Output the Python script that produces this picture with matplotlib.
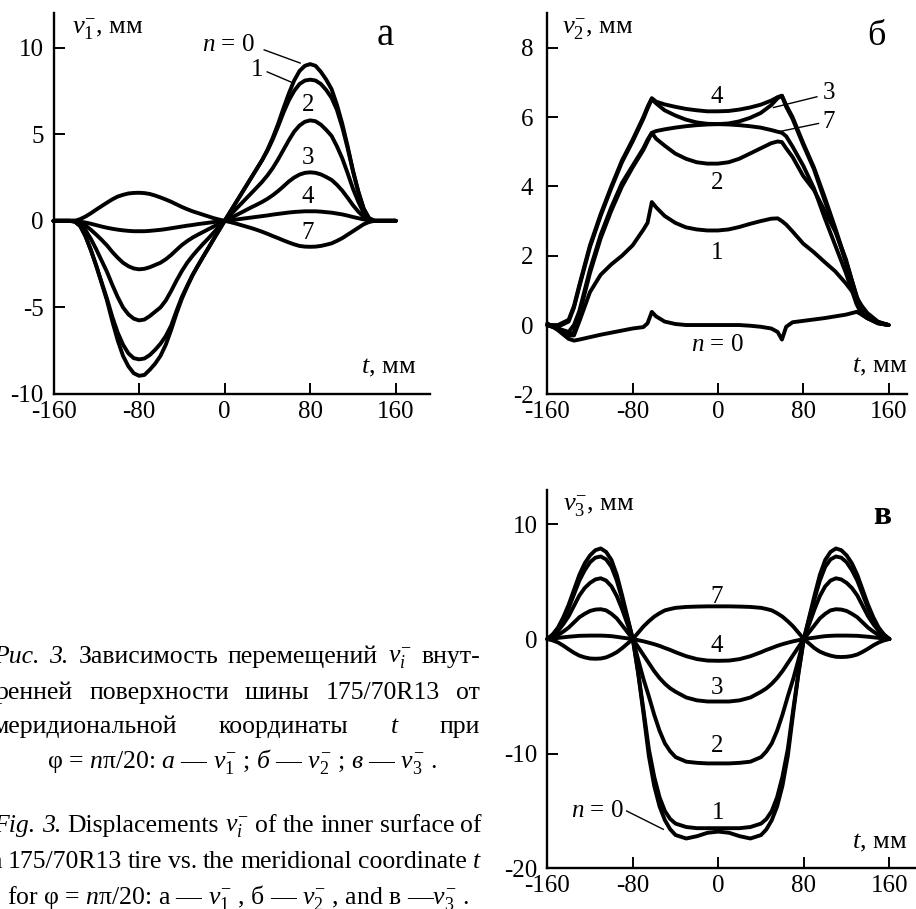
import matplotlib
matplotlib.use("Agg")
import matplotlib.pyplot as plt

plt.rcParams["font.family"] = ["Liberation Serif", "DejaVu Serif"]
plt.rcParams["mathtext.fontset"] = "custom"
plt.rcParams["mathtext.rm"] = "Liberation Serif"
plt.rcParams["mathtext.it"] = "Liberation Serif:italic"
plt.rcParams["mathtext.bf"] = "Liberation Serif:bold"
plt.rcParams["axes.unicode_minus"] = False

# ---------------- data ----------------
# panel a: v1^- vs t (step 5 mm)
t_a = [-160, -155, -150, -145, -140, -135, -130, -125, -120, -115, -110, -105, -100, -95, -90, -85,
       -80, -75, -70, -65, -60, -55, -50, -45, -40, -35, -30, -25, -20, -15, -10, -5, 0,
       5, 10, 15, 20, 25, 30, 35, 40, 45, 50, 55, 60, 65, 70, 75, 80,
       85, 90, 95, 100, 105, 110, 115, 120, 125, 130, 135, 140, 145, 150, 155, 160]
v1_n0 = [0, 0, 0, 0, -0.05, -0.3, -0.9, -1.7, -2.6, -3.6, -4.6, -5.8, -6.9, -7.8, -8.4, -8.8,
         -8.95, -8.9, -8.6, -8.25, -7.8, -7.15, -6.3, -5.35, -4.5, -3.8, -3.15, -2.6, -2.07, -1.55, -1.03, -0.52, 0,
         0.5, 1.0, 1.5, 2.0, 2.5, 3.0, 3.5, 4.1, 4.8, 5.6, 6.5, 7.35, 8.1, 8.65, 8.95, 9.05,
         8.95, 8.6, 8.15, 7.6, 6.7, 5.6, 4.3, 2.9, 1.7, 0.7, 0.15, 0, 0, 0, 0, 0]
v1_n1 = [0, 0, 0, 0, -0.05, -0.3, -0.9, -1.7, -2.6, -3.55, -4.5, -5.55, -6.45, -7.15, -7.65, -7.93,
         -8.0, -7.95, -7.75, -7.45, -7.1, -6.65, -6.05, -5.2, -4.4, -3.75, -3.12, -2.58, -2.06, -1.55, -1.03, -0.52, 0,
         0.5, 1.0, 1.5, 2.0, 2.5, 3.0, 3.5, 4.05, 4.7, 5.45, 6.25, 6.95, 7.5, 7.9, 8.1, 8.15,
         8.1, 7.9, 7.55, 7.1, 6.4, 5.4, 4.2, 2.85, 1.65, 0.7, 0.15, 0, 0, 0, 0, 0]
v1_n2 = [0, 0, 0, 0, 0, -0.2, -0.55, -1.05, -1.65, -2.3, -2.95, -3.7, -4.4, -5.0, -5.4, -5.65,
         -5.75, -5.7, -5.5, -5.25, -5.0, -4.6, -4.05, -3.45, -2.9, -2.42, -2.02, -1.66, -1.32, -1.0, -0.66, -0.33, 0,
         0.32, 0.64, 0.96, 1.28, 1.6, 1.92, 2.25, 2.62, 3.05, 3.55, 4.1, 4.65, 5.15, 5.5, 5.72, 5.8,
         5.75, 5.55, 5.25, 4.9, 4.3, 3.6, 2.75, 1.85, 1.1, 0.45, 0.1, 0, 0, 0, 0, 0]
v1_n3 = [0, 0, 0, 0, 0, -0.1, -0.28, -0.52, -0.8, -1.1, -1.42, -1.8, -2.13, -2.42, -2.62, -2.75,
         -2.8, -2.77, -2.68, -2.55, -2.42, -2.22, -1.97, -1.68, -1.4, -1.17, -0.97, -0.8, -0.64, -0.48, -0.32, -0.16, 0,
         0.15, 0.3, 0.46, 0.62, 0.78, 0.93, 1.09, 1.27, 1.48, 1.72, 1.99, 2.27, 2.5, 2.67, 2.77, 2.8,
         2.77, 2.68, 2.53, 2.36, 2.08, 1.74, 1.33, 0.9, 0.53, 0.22, 0.05, 0, 0, 0, 0, 0]
v1_n4 = [0, 0, 0, 0, 0, -0.05, -0.1, -0.17, -0.25, -0.33, -0.4, -0.46, -0.51, -0.55, -0.58, -0.6,
         -0.6, -0.6, -0.58, -0.55, -0.52, -0.48, -0.43, -0.38, -0.33, -0.28, -0.24, -0.19, -0.15, -0.11, -0.07, -0.035, 0,
         0.035, 0.07, 0.11, 0.15, 0.19, 0.23, 0.27, 0.31, 0.36, 0.4, 0.44, 0.48, 0.51, 0.53, 0.55, 0.55,
         0.55, 0.53, 0.5, 0.47, 0.42, 0.37, 0.3, 0.22, 0.15, 0.08, 0.03, 0, 0, 0, 0, 0]
v1_n7 = [0, 0, 0, 0, 0, 0.1, 0.25, 0.44, 0.65, 0.85, 1.05, 1.24, 1.4, 1.5, 1.58, 1.61,
         1.62, 1.6, 1.55, 1.46, 1.35, 1.23, 1.1, 0.95, 0.8, 0.67, 0.55, 0.45, 0.35, 0.25, 0.15, 0.07, 0,
         -0.07, -0.15, -0.24, -0.33, -0.42, -0.52, -0.63, -0.75, -0.88, -1.0, -1.13, -1.25, -1.36, -1.45, -1.49, -1.5,
         -1.49, -1.45, -1.38, -1.3, -1.16, -1.0, -0.8, -0.6, -0.4, -0.2, -0.07, 0, 0, 0, 0, 0]

# panel b: v2^- vs t
t_b = [-160, -150, -140, -135, -130, -120, -110, -100, -90, -80, -70, -66, -62, -58, -50,
       -40, -30, -20, -10, 0, 10, 20, 30, 40, 50, 56, 60, 64, 70, 80,
       90, 100, 110, 120, 130, 135, 140, 150, 160]
v2_n0 = [0.05, -0.15, -0.4, -0.45, -0.42, -0.35, -0.28, -0.22, -0.16, -0.1, -0.06, 0.05, 0.38, 0.25, 0.1,
         0.03, 0.0, 0.0, 0.0, 0.0, 0.0, 0.0, -0.02, -0.05, -0.1, -0.2, -0.42, -0.05, 0.08, 0.12,
         0.16, 0.2, 0.25, 0.3, 0.38, 0.3, 0.2, 0.08, 0.0]
v2_n1 = [0.0, -0.1, -0.3, -0.3, 0.1, 0.95, 1.45, 1.75, 2.0, 2.3, 2.75, 2.95, 3.55, 3.4, 3.15,
         2.95, 2.82, 2.76, 2.73, 2.73, 2.76, 2.83, 2.92, 3.0, 3.07, 3.08, 3.0, 2.9, 2.7, 2.35,
         2.1, 1.82, 1.55, 1.2, 0.8, 0.55, 0.35, 0.1, 0.0]
v2_n2 = [0, -0.1, -0.3, -0.2, 0.3, 1.5, 2.5, 3.3, 4.0, 4.55, 5.05, 5.3, 5.55, 5.38, 5.18,
         4.95, 4.8, 4.7, 4.66, 4.66, 4.7, 4.8, 4.95, 5.1, 5.25, 5.3, 5.28, 5.1, 4.85, 4.3,
         3.9, 3.3, 2.7, 1.9, 0.8, 0.4, 0.25, 0.08, 0]
v2_n3 = [0, -0.05, 0.1, 0.5, 1.1, 2.25, 3.15, 3.95, 4.7, 5.3, 5.95, 6.25, 6.52, 6.4, 6.2,
         6.05, 5.93, 5.85, 5.81, 5.8, 5.82, 5.88, 5.98, 6.12, 6.35, 6.55, 6.62, 6.3, 5.95, 5.2,
         4.5, 3.6, 2.75, 1.8, 0.8, 0.35, 0.2, 0.05, 0]
v2_n4 = [0, 0.0, 0.15, 0.55, 1.15, 2.3, 3.2, 4.0, 4.75, 5.35, 6.0, 6.3, 6.55, 6.45, 6.37,
         6.3, 6.24, 6.2, 6.17, 6.17, 6.18, 6.22, 6.28, 6.36, 6.48, 6.58, 6.62, 6.35, 6.0, 5.25,
         4.55, 3.7, 2.8, 1.85, 0.85, 0.4, 0.22, 0.06, 0]
v2_n7 = [0, -0.1, -0.2, 0.0, 0.4, 1.6, 2.6, 3.4, 4.1, 4.6, 5.1, 5.35, 5.55, 5.6, 5.65,
         5.7, 5.74, 5.77, 5.79, 5.8, 5.79, 5.77, 5.74, 5.7, 5.63, 5.58, 5.55, 5.45, 5.15, 4.6,
         3.95, 3.1, 2.3, 1.5, 0.6, 0.3, 0.2, 0.05, 0]

# panel c: v3^- vs t
t_c = [-160, -155, -150, -145, -140, -135, -130, -125, -120, -115, -110, -105, -100, -95, -90, -85,
       -80, -75, -70, -65, -60, -55, -50, -45, -40,
       -30, -20, -10, 0, 10, 20, 30,
       40, 45, 50, 55, 60, 65, 70, 75, 80,
       85, 90, 95, 100, 105, 110, 115, 120, 125, 130, 135, 140, 145, 150, 155, 160]
v3_n0 = [0, 0.4, 1.0, 1.9, 3.0, 4.3, 5.6, 6.6, 7.3, 7.75, 7.9, 7.6, 6.9, 5.6, 3.8, 1.9,
         0, -3.0, -6.5, -10.2, -12.8, -14.6, -15.8, -16.6, -17.1,
         -17.4, -17.2, -16.9, -16.8, -16.9, -17.2, -17.4,
         -17.1, -16.6, -15.8, -14.6, -12.8, -10.2, -6.5, -3.0, 0,
         1.9, 3.8, 5.6, 6.9, 7.6, 7.9, 7.75, 7.3, 6.6, 5.6, 4.3, 3.0, 1.9, 1.0, 0.4, 0]
v3_n1 = [0, 0.35, 0.9, 1.7, 2.7, 3.9, 5.1, 6.0, 6.7, 7.1, 7.2, 6.95, 6.3, 5.1, 3.5, 1.75,
         0, -2.9, -6.2, -9.6, -12.0, -13.8, -15.0, -15.7, -16.1,
         -16.4, -16.5, -16.5, -16.5, -16.5, -16.5, -16.4,
         -16.1, -15.7, -15.0, -13.8, -12.0, -9.6, -6.2, -2.9, 0,
         1.75, 3.5, 5.1, 6.3, 6.95, 7.2, 7.1, 6.7, 6.0, 5.1, 3.9, 2.7, 1.7, 0.9, 0.35, 0]
v3_n2 = [0, 0.27, 0.7, 1.3, 2.0, 2.9, 3.8, 4.45, 4.9, 5.2, 5.3, 5.1, 4.6, 3.75, 2.6, 1.3,
         0, -1.8, -3.5, -5.0, -6.6, -8.0, -9.1, -9.8, -10.3,
         -10.7, -10.8, -10.85, -10.85, -10.85, -10.8, -10.7,
         -10.3, -9.8, -9.1, -8.0, -6.6, -5.0, -3.5, -1.8, 0,
         1.3, 2.6, 3.75, 4.6, 5.1, 5.3, 5.2, 4.9, 4.45, 3.8, 2.9, 2.0, 1.3, 0.7, 0.27, 0]
v3_n3 = [0, 0.13, 0.35, 0.65, 1.0, 1.45, 1.9, 2.2, 2.45, 2.57, 2.6, 2.5, 2.2, 1.8, 1.2, 0.6,
         0, -0.7, -1.4, -2.1, -2.8, -3.4, -3.9, -4.3, -4.6,
         -5.1, -5.35, -5.45, -5.45, -5.45, -5.35, -5.1,
         -4.6, -4.3, -3.9, -3.4, -2.8, -2.1, -1.4, -0.7, 0,
         0.6, 1.2, 1.8, 2.2, 2.5, 2.6, 2.57, 2.45, 2.2, 1.9, 1.45, 1.0, 0.65, 0.35, 0.13, 0]
v3_n4 = [0, 0.05, 0.1, 0.15, 0.2, 0.24, 0.28, 0.29, 0.3, 0.3, 0.3, 0.28, 0.25, 0.19, 0.12, 0.06,
         0, -0.1, -0.2, -0.32, -0.45, -0.6, -0.78, -0.95, -1.15,
         -1.5, -1.75, -1.88, -1.9, -1.88, -1.75, -1.5,
         -1.15, -0.95, -0.78, -0.6, -0.45, -0.32, -0.2, -0.1, 0,
         0.06, 0.12, 0.19, 0.25, 0.28, 0.3, 0.3, 0.3, 0.29, 0.28, 0.24, 0.2, 0.15, 0.1, 0.05, 0]
v3_n7 = [0, -0.12, -0.3, -0.58, -0.9, -1.2, -1.45, -1.6, -1.7, -1.72, -1.7, -1.6, -1.4, -1.15, -0.8, -0.4,
         0, 0.55, 1.1, 1.55, 1.95, 2.25, 2.5, 2.62, 2.72,
         2.8, 2.83, 2.85, 2.85, 2.85, 2.83, 2.8,
         2.72, 2.62, 2.5, 2.25, 1.95, 1.55, 1.1, 0.55, 0,
         -0.4, -0.8, -1.1, -1.3, -1.45, -1.55, -1.57, -1.55, -1.48, -1.35, -1.12, -0.85, -0.55, -0.3, -0.12, 0]

x_ticks = [-160, -80, 0, 80, 160]
x_ticklabels = ["-160", "-80", "0", "80", "160"]
yticks_a = [-10, -5, 0, 5, 10]
yticks_b = [-2, 0, 2, 4, 6, 8]
yticks_c = [-20, -10, 0, 10]

caption_ru = [
    [("Рис.", "italic"), ("3.", "italic"), ("Зависимость", "normal"), ("перемещений", "normal"),
     ("$v_i^{-}$", "normal"), ("внут-", "normal")],
    [("ренней", "normal"), ("поверхности", "normal"), ("шины", "normal"), ("175/70R13", "normal"), ("от", "normal")],
    [("меридиональной", "normal"), ("координаты", "normal"), ("t", "italic"), ("при", "normal")],
]
caption_ru_last = r"φ = $n$π/20: $\mathit{а}$ — $v_1^{-}$ ; $\mathit{б}$ — $v_2^{-}$ ; $\mathit{в}$ — $v_3^{-}$ ."
caption_en = [
    [("Fig.", "italic"), ("3.", "italic"), ("Displacements", "normal"), ("$v_i^{-}$", "normal"), ("of", "normal"),
     ("the", "normal"), ("inner", "normal"), ("surface", "normal"), ("of", "normal")],
    [("a", "normal"), ("175/70R13", "normal"), ("tire", "normal"), ("vs.", "normal"), ("the", "normal"),
     ("meridional", "normal"), ("coordinate", "normal"), ("t", "italic")],
]
caption_en_last = r"for φ = $n$π/20: a — $v_1^{-}$ , б — $v_2^{-}$ , and в —$v_3^{-}$ ."

# ---------------- figure ----------------
W, H = 916, 909
fig = plt.figure(figsize=(W / 100, H / 100), dpi=100)
fig.patch.set_facecolor("white")

def px_axes(l, t, r, b):
    return fig.add_axes([l / W, 1 - b / H, (r - l) / W, (b - t) / H])

LW = 2.8
TICK_FS = 18
LAB_FS = 18
AX_FS = 19

def style(ax, xlim, ylim, yticks, ypad):
    ax.set_xlim(*xlim)
    ax.set_ylim(*ylim)
    for s in ("top", "right"):
        ax.spines[s].set_visible(False)
    for s in ("left", "bottom"):
        ax.spines[s].set_linewidth(1.7)
    ax.set_xticks(x_ticks)
    ax.set_xticklabels(x_ticklabels)
    ax.set_yticks(yticks)
    ax.set_yticklabels([str(v) for v in yticks])
    ax.tick_params(axis="both", direction="in", length=8, width=1.4, labelsize=TICK_FS)
    ax.tick_params(axis="x", pad=5)
    ax.tick_params(axis="y", pad=ypad)
    ax.patch.set_alpha(0)

def curves(ax, t, series):
    for v in series:
        ax.plot(t, v, color="black", lw=LW, solid_capstyle="round", solid_joinstyle="round", clip_on=False)

# panel a
ax_a = px_axes(53.5, 13, 430, 394)
style(ax_a, (-160, 192), (-10, 12), yticks_a, 7)
curves(ax_a, t_a, [v1_n0, v1_n1, v1_n2, v1_n3, v1_n4, v1_n7])
ax_a.text(3, 10.15, "$n$ = 0", fontsize=LAB_FS, ha="center", va="center")
ax_a.plot([37, 70.6], [9.87, 9.11], color="black", lw=1.0)
ax_a.text(30.4, 8.7, "1", fontsize=LAB_FS, ha="center", va="center")
ax_a.plot([39.8, 64.1], [8.6, 7.96], color="black", lw=1.0)
for lab, (tx, vy) in zip(["2", "3", "4", "7"], [(78, 6.7), (78, 3.6), (78, 1.37), (78, -0.7)]):
    ax_a.text(tx, vy, lab, fontsize=LAB_FS, ha="center", va="center")
ax_a.text(150, 10.7, "а", fontsize=28, ha="center", va="center")
ax_a.text(-142.7, 11.1, "$v_1^{-}$, мм", fontsize=AX_FS, ha="left", va="center")
ax_a.text(127.5, -8.5, "$t$, мм", fontsize=AX_FS, ha="left", va="center")

# panel b
ax_b = px_axes(547.3, 13.3, 906.7, 394.3)
style(ax_b, (-160, 177), (-2, 9), yticks_b, 10)
curves(ax_b, t_b, [v2_n0, v2_n1, v2_n2, v2_n3, v2_n4, v2_n7])
for lab, (tx, vy) in zip(["4", "3", "7", "2", "1"],
                         [(-1, 6.59), (104, 6.69), (104, 5.87), (-1, 4.09), (-1, 2.07)]):
    ax_b.text(tx, vy, lab, fontsize=LAB_FS, ha="center", va="center")
ax_b.text(-1, -0.58, "$n$ = 0", fontsize=LAB_FS, ha="center", va="center")
ax_b.plot([92.8, 52.1], [6.59, 6.28], color="black", lw=1.0)
ax_b.plot([94.3, 56.8], [5.82, 5.58], color="black", lw=1.0)
ax_b.text(149, 8.32, "б", fontsize=26, ha="center", va="center")
ax_b.text(-146.5, 8.56, "$v_2^{-}$, мм", fontsize=AX_FS, ha="left", va="center")
ax_b.text(126, -1.2, "$t$, мм", fontsize=AX_FS, ha="left", va="center")

# panel c
ax_c = px_axes(547.3, 490, 915, 868.3)
style(ax_c, (-160, 184), (-20, 13), yticks_c, 7)
curves(ax_c, t_c, [v3_n0, v3_n1, v3_n2, v3_n3, v3_n4, v3_n7])
for lab, (tx, vy) in zip(["7", "4", "3", "2", "1"],
                         [(-1.4, 3.64), (-1.4, -0.59), (-1.4, -4.23), (-1.4, -9.33), (0, -15.16)]):
    ax_c.text(tx, vy, lab, fontsize=LAB_FS, ha="center", va="center")
ax_c.text(-113, -15.0, "$n$ = 0", fontsize=LAB_FS, ha="center", va="center")
ax_c.plot([-85.8, -51.5], [-15.0, -16.6], color="black", lw=1.0)
ax_c.text(153, 10.78, "в", fontsize=24, fontweight="bold", ha="center", va="center")
ax_c.text(-145, 11.65, "$v_3^{-}$, мм", fontsize=AX_FS, ha="left", va="center")
ax_c.text(125, -17.8, "$t$, мм", fontsize=AX_FS, ha="left", va="center")

# ---------------- caption ----------------
CAP_FS = 18.5
renderer = fig.canvas.get_renderer()

def justify(words, y_base, x0, x1):
    objs = [fig.text(0, 0, w, fontsize=CAP_FS, fontstyle=st, ha="left", va="baseline") for w, st in words]
    widths = [o.get_window_extent(renderer).width for o in objs]
    gap = (x1 - x0 - sum(widths)) / (len(objs) - 1)
    x = x0
    for o, w in zip(objs, widths):
        o.set_position((x / W, 1 - y_base / H))
        x += w + gap

justify(caption_ru[0], 663, -7, 480)
justify(caption_ru[1], 699, -4, 480)
justify(caption_ru[2], 733, -8, 480)
fig.text(242 / W, 1 - 768 / H, caption_ru_last, fontsize=CAP_FS, ha="center", va="baseline")
justify(caption_en[0], 832, -7, 482)
justify(caption_en[1], 868, -10, 480)
fig.text(238 / W, 1 - 904 / H, caption_en_last, fontsize=CAP_FS, ha="center", va="baseline")

fig.savefig("out.png", dpi=100)
